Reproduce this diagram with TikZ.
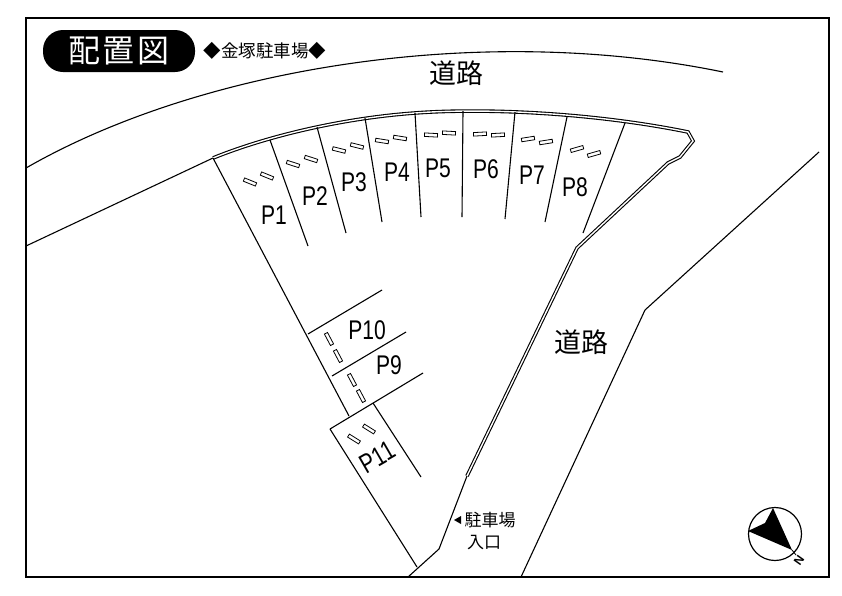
\documentclass[tikz,border=0pt]{standalone}
\usepackage{fontspec}
\setmainfont{Liberation Sans}
\newfontfamily\cjk{Noto Sans CJK JP}
\newfontfamily\lblfont[FakeStretch=0.78]{Liberation Sans}
\tikzset{
  ln/.style={draw=black,line width=1.1pt,line join=round},
  lot/.style={font=\lblfont\fontsize{27}{27}\selectfont,inner sep=0pt,text=black},
  jp/.style={font=\cjk\fontsize{#1}{#1}\selectfont,inner sep=0pt,text=black},
  stopper/.style={draw=black,line width=0.8pt,fill=white,minimum width=13pt,minimum height=3.5pt,inner sep=0pt,rotate=#1},
}
\begin{document}
\begin{tikzpicture}[x=1pt,y=-1pt]
\useasboundingbox (0,0) rectangle (842,595);
\fill[white] (0,0) rectangle (842,595);
% frame
\draw[line width=1.4pt] (26,18) rectangle (829,577);
% title
\node[fill=black,rounded corners=20pt,minimum width=152pt,minimum height=42pt,inner sep=0pt] (title) at (119,51) {};
\node[jp=32,text=white] (titletext) at (119,51) {配\hspace{3pt}置\hspace{3pt}図};
\node[jp=17.5] (sub) at (265,51) {◆金塚駐車場◆};
% roads
\draw[ln] (26,168) .. controls (200,68) and (480,22) .. (723,72);
\draw[ln] (26,246) -- (213,158);
\draw[ln] (819,152) -- (645,310) -- (521,577);
\draw[ln] (467,476) -- (439,549) -- (408,577);
% lot outline
\def\lotpath{(213,158) .. controls (270,135) and (345,118) .. (415,113) .. controls (480,108) and (590,112) .. (688,132) -- (693,141) -- (680,157) -- (668,163) -- (577,248) -- (467,476)}
\draw[black,line width=3.6pt,line join=miter] \lotpath;
\draw[white,line width=1.4pt,line join=miter] \lotpath;
% dividers
\draw[ln] (213,158) -- (349,416);
\draw[ln] (270,140) -- (308,246);
\draw[ln] (317,127) -- (346,233);
\draw[ln] (365,118) -- (382,222);
\draw[ln] (415,113) -- (421,217);
\draw[ln] (463,111) -- (462,217);
\draw[ln] (515,112) -- (505,219);
\draw[ln] (567,117) -- (545,222);
\draw[ln] (625,123) -- (583,233);
\draw[ln] (308,334) -- (382,290);
\draw[ln] (332,376) -- (406,332);
\draw[ln] (330,429) -- (423,373);
\draw[ln] (373,403) -- (421,477);
\draw[ln] (330,429) -- (417,567);
% stoppers
\foreach \x/\y/\a in {250/182/-22,267/176/-22,293/164/-18,311/159/-18,339/150/-14,357/146/-14,382/141/-9,400/138/-9,431/135/-3,449/133/-3,480/134/3,498/135/3,528/139/9,546/142/9,577/149/16,594/154/16,329/339/-62,338/356/-62,352/380/-62,361/396/-62,354/439/-32,369/429/-32}
  \node[stopper=\a] at (\x,\y) {};
% labels
\node[lot] (p1) at (274,215) {P1};
\node[lot] (p2) at (315,196) {P2};
\node[lot] (p3) at (354,182) {P3};
\node[lot] (p4) at (397,172) {P4};
\node[lot] (p5) at (438,168) {P5};
\node[lot] (p6) at (486,169) {P6};
\node[lot] (p7) at (532,175) {P7};
\node[lot] (p8) at (575,187) {P8};
\node[lot] (p10) at (367,330) {P10};
\node[lot] (p9) at (389,365) {P9};
\node[lot,rotate=30] (p11) at (377,457) {P11};
\node[jp=27] (road1) at (456,73) {道路};
\node[jp=27] (road2) at (581,342) {道路};
\node[jp=17] (ent1) at (490,520) {駐車場};
\fill[black] (454,520) -- (461,516) -- (461,524) -- cycle;
\node[jp=17] (ent2) at (484,543) {入口};
% compass
\draw[line width=1.2pt] (775,534) circle (26.5);
\fill[black] (773,508) -- (765,523) -- (748,531) -- (792,550) -- cycle;
\draw[line width=0.8pt] (792,550) -- (796,555);
\node[font=\fontsize{12}{12}\selectfont\bfseries,inner sep=0pt,rotate=-125] (north) at (799,560) {N};
\end{tikzpicture}
\end{document}
